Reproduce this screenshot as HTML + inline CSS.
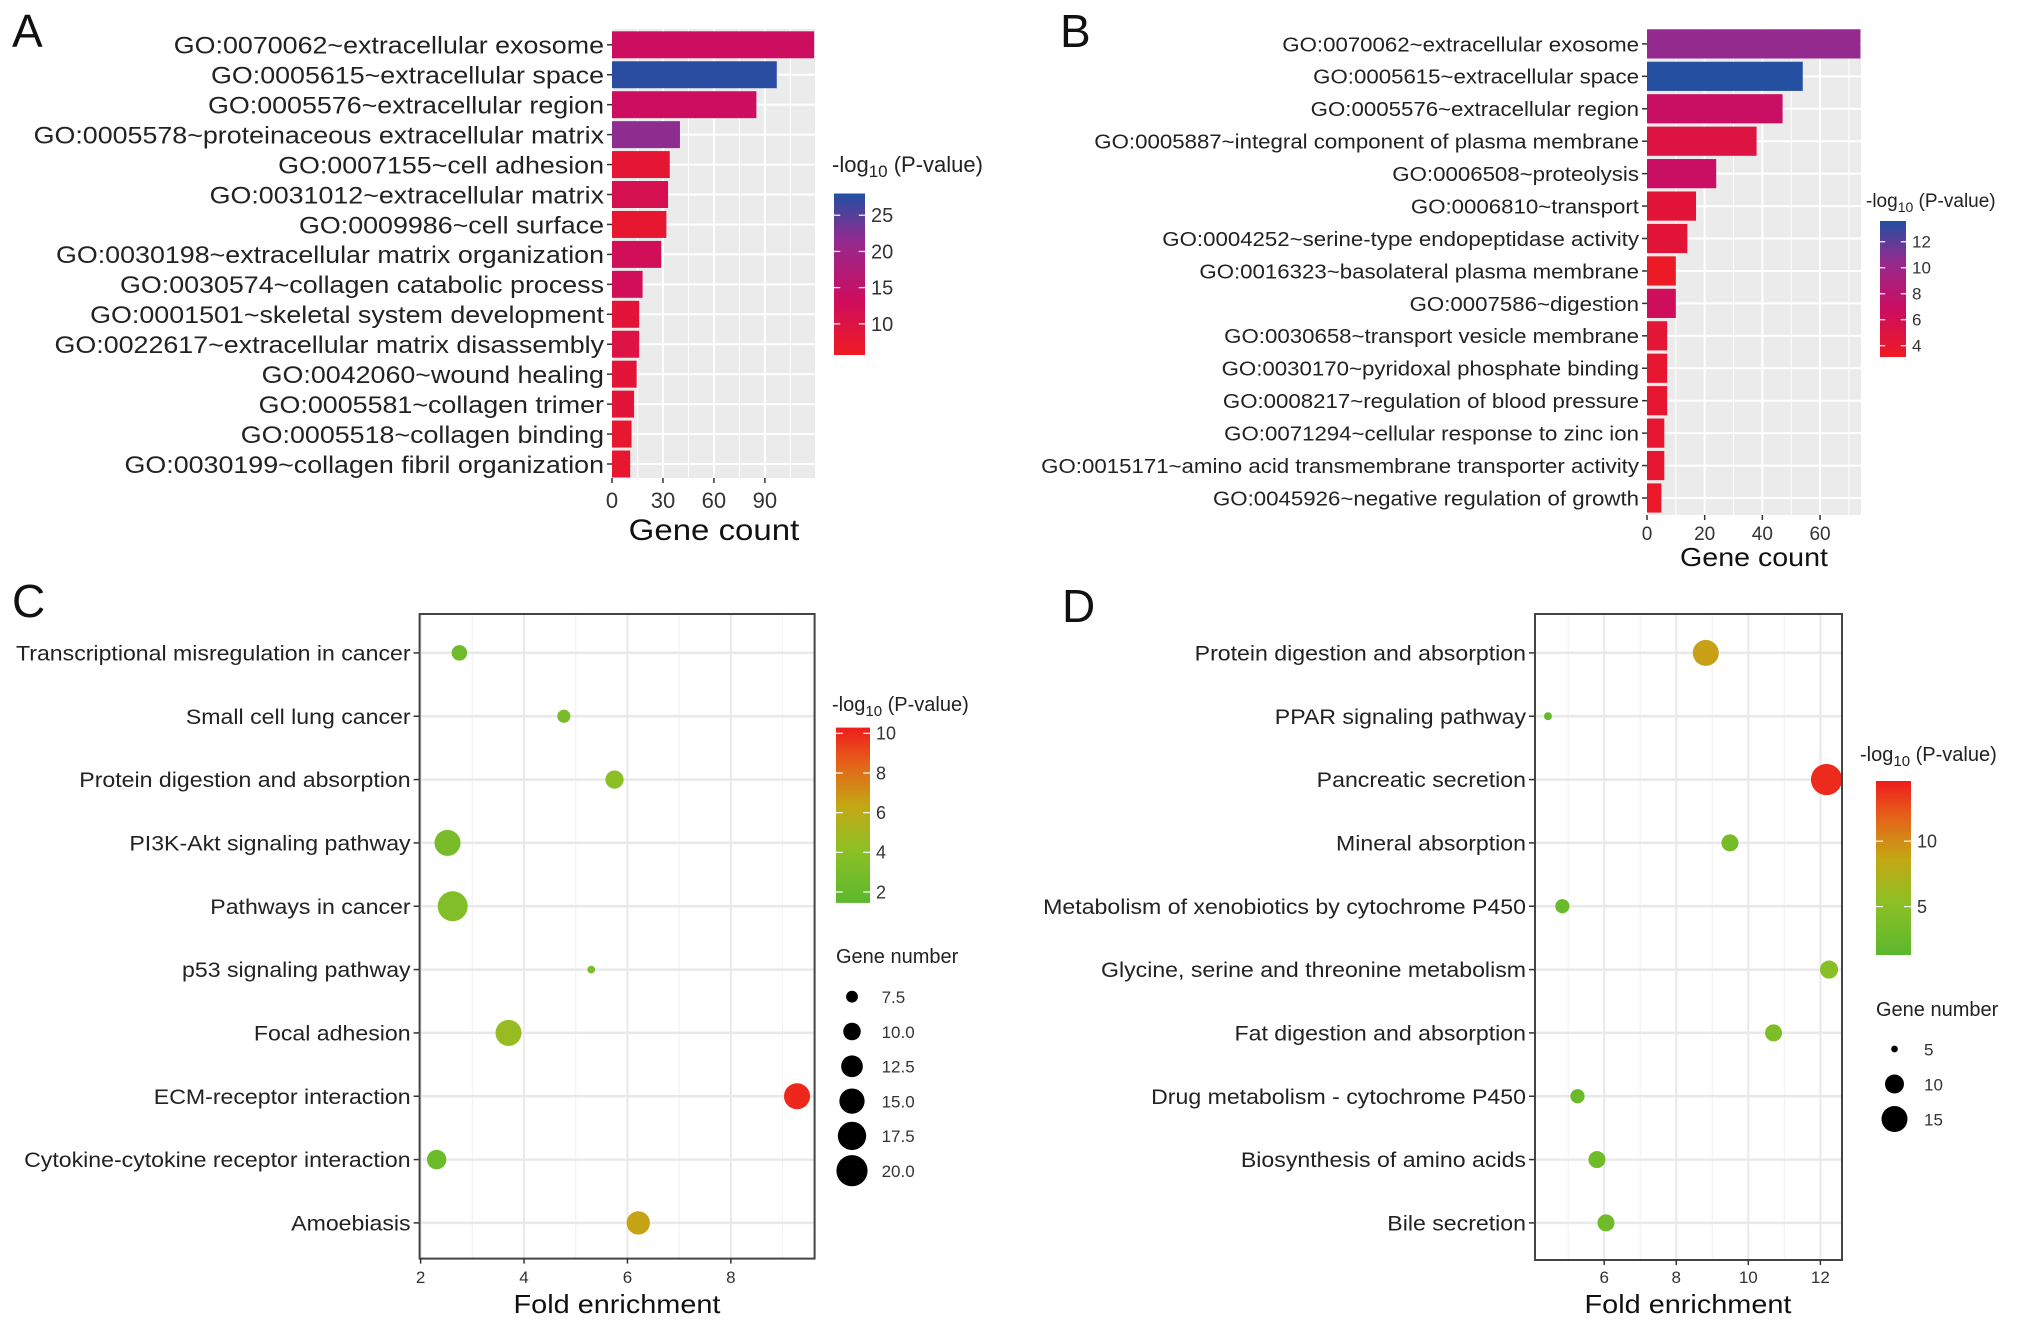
<!DOCTYPE html>
<html><head><meta charset="utf-8"><style>
html,body{margin:0;padding:0;background:#fff}
svg{display:block}
text{font-family:"Liberation Sans",Arial,sans-serif}
</style></head><body>
<svg id="fig" width="2031" height="1323" viewBox="0 0 2031 1323" xmlns="http://www.w3.org/2000/svg"></svg>
<script>
// ---------- Panel A data ----------
const aCats=["GO:0070062~extracellular exosome","GO:0005615~extracellular space","GO:0005576~extracellular region","GO:0005578~proteinaceous extracellular matrix","GO:0007155~cell adhesion","GO:0031012~extracellular matrix","GO:0009986~cell surface","GO:0030198~extracellular matrix organization","GO:0030574~collagen catabolic process","GO:0001501~skeletal system development","GO:0022617~extracellular matrix disassembly","GO:0042060~wound healing","GO:0005581~collagen trimer","GO:0005518~collagen binding","GO:0030199~collagen fibril organization"];
const aCounts=[119,97,85,40,34,33,32,29,18,16,16,14.5,13,11.5,10.7];
const aLogP=[13.5,27.5,13.5,21.8,8,11.5,7.5,12.5,12.5,8.5,10,8.5,8.5,7.5,7.5];
const aTicks=[0,30,60,90];
const aBarTicks=[10,15,20,25];
// ---------- Panel B data ----------
const bCats=["GO:0070062~extracellular exosome","GO:0005615~extracellular space","GO:0005576~extracellular region","GO:0005887~integral component of plasma membrane","GO:0006508~proteolysis","GO:0006810~transport","GO:0004252~serine-type endopeptidase activity","GO:0016323~basolateral plasma membrane","GO:0007586~digestion","GO:0030658~transport vesicle membrane","GO:0030170~pyridoxal phosphate binding","GO:0008217~regulation of blood pressure","GO:0071294~cellular response to zinc ion","GO:0015171~amino acid transmembrane transporter activity","GO:0045926~negative regulation of growth"];
const bCounts=[74,54,47,38,24,17,14,10,10,7,7,7,6,6,5];
const bLogP=[10.5,13.5,7,5,7,4.5,4.5,3.4,6.5,4.3,4,4,4,4,3.6];
const bTicks=[0,20,40,60];
const bBarTicks=[4,6,8,10,12];
// ---------- Panel C data ----------
const cCats=["Transcriptional misregulation in cancer","Small cell lung cancer","Protein digestion and absorption","PI3K-Akt signaling pathway","Pathways in cancer","p53 signaling pathway","Focal adhesion","ECM-receptor interaction","Cytokine-cytokine receptor interaction","Amoebiasis"];
const cFold=[2.75,4.77,5.75,2.52,2.62,5.3,3.7,9.28,2.31,6.21];
const cGenes=[9,8,10.4,15.6,18.9,6.3,15.6,15.6,11.1,13.6];
const cLogP=[2.5,3,4,3,3.5,3,4.5,10,2.3,6.5];
const cTicks=[2,4,6,8];
const cBarTicks=[2,4,6,8,10];
const cSizeTicks=[7.5,10.0,12.5,15.0,17.5,20.0];
// ---------- Panel D data ----------
const dCats=["Protein digestion and absorption","PPAR signaling pathway","Pancreatic secretion","Mineral absorption","Metabolism of xenobiotics by cytochrome P450","Glycine, serine and threonine metabolism","Fat digestion and absorption","Drug metabolism - cytochrome P450","Biosynthesis of amino acids","Bile secretion"];
const dFold=[8.82,4.44,12.17,9.49,4.84,12.24,10.7,5.26,5.8,6.05];
const dGenes=[15,5.3,19.7,8.9,7.5,9.5,8.9,7.5,8.9,8.9];
const dLogP=[9,2,14,3.5,2.5,5,4,2.5,3,3];
const dTicks=[6,8,10,12];
const dBarTicks=[5,10];
const dSizeTicks=[5,10,15];

const NS="http://www.w3.org/2000/svg";
const svg=document.getElementById('fig');
function mk(tag,attrs,parent){const e=document.createElementNS(NS,tag);for(const k in attrs)e.setAttribute(k,attrs[k]);(parent||svg).appendChild(e);return e;}
function txt(s,attrs,parent){const e=mk('text',attrs,parent);e.textContent=s;return e;}
function stretch(el,f){try{const w=el.getComputedTextLength();if(w>0){el.setAttribute('textLength',(w*f).toFixed(1));el.setAttribute('lengthAdjust','spacingAndGlyphs');}}catch(e){}}
function hex(h){return [parseInt(h.slice(1,3),16),parseInt(h.slice(3,5),16),parseInt(h.slice(5,7),16)];}
function interp(stops,t){t=Math.max(0,Math.min(1,t));for(let i=1;i<stops.length;i++){if(t<=stops[i][0]){const a=stops[i-1],b=stops[i];const u=(t-a[0])/(b[0]-a[0]);const ca=hex(a[1]),cb=hex(b[1]);return 'rgb('+ca.map((v,j)=>Math.round(v+(cb[j]-v)*u)).join(',')+')';}}return stops[stops.length-1][1];}
const RB=[[0,'#ef1a22'],[0.35,'#cc0d60'],[0.7,'#962a8e'],[1,'#2150a2']];
const GR=[[0,'#5cb82e'],[0.3,'#8cc025'],[0.55,'#c3a814'],[0.8,'#e6601a'],[1,'#ee1c1c']];
let gradId=0;
function colorbar(g,x,y,w,h,lo,hi,stops,ticks,title,tx,ty,fs){
  const id='grad'+(gradId++);
  const defs=mk('defs',{},g);
  const lg=mk('linearGradient',{id:id,x1:0,y1:1,x2:0,y2:0},defs);
  stops.forEach(s=>mk('stop',{offset:s[0],'stop-color':s[1]},lg));
  const r=mk('rect',{x:x,y:y,width:w,height:h,fill:'url(#'+id+')'},g);
  
  
  const t=txt('',{x:tx,y:ty,'font-size':fs+2,fill:'#222'},g);
  
  
  t.innerHTML='-log<tspan font-size="'+(fs-3)+'" dy="5">10</tspan><tspan dy="-5"> (P-value)</tspan>';
  ticks.forEach(v=>{const yy=y+h-(v-lo)/(hi-lo)*h;
    mk('line',{x1:x,x2:x+w*0.2,y1:yy,y2:yy,stroke:'#fff','stroke-width':1.2},g);
    mk('line',{x1:x+w*0.8,x2:x+w,y1:yy,y2:yy,stroke:'#fff','stroke-width':1.2},g);
    const l=txt(String(v),{x:x+w+6,y:yy+fs*0.35,'font-size':fs,fill:'#333'},g);
    
    
  });
}
function barPanel(o){
  const g=mk('g',{});  
  const xs=v=>o.x0+(v-0)/(o.xmax)*(o.x1-o.x0);
  const n=o.cats.length; const step=(o.yLast-o.yFirst)/(n-1);
  const bg=mk('rect',{x:o.x0,y:o.y0,width:o.x1-o.x0,height:o.y1-o.y0,fill:'#ebebeb'},g);
  
  
  const minor=o.ticks.slice(0,-1).map((t,i)=>(t+o.ticks[i+1])/2); minor.push(o.ticks[o.ticks.length-1]+(o.ticks[1]-o.ticks[0])/2);
  minor.forEach(v=>{if(v<o.xmax)mk('line',{x1:xs(v),x2:xs(v),y1:o.y0,y2:o.y1,stroke:'#fff','stroke-width':1},g);});
  o.ticks.forEach(v=>mk('line',{x1:xs(v),x2:xs(v),y1:o.y0,y2:o.y1,stroke:'#fff','stroke-width':2},g));
  o.cats.forEach((c,i)=>{const yc=o.yFirst+i*step;
    mk('line',{x1:o.x0,x2:o.x1,y1:yc,y2:yc,stroke:'#fff','stroke-width':2},g);
  });
  o.cats.forEach((c,i)=>{const yc=o.yFirst+i*step; const bh=step*0.9;
    const b=mk('rect',{x:xs(0),y:yc-bh/2,width:xs(o.counts[i])-xs(0),height:bh,fill:interp(RB,(o.logp[i]-o.clo)/(o.chi-o.clo))},g);
    
    
    mk('line',{x1:o.x0-5,x2:o.x0,y1:yc,y2:yc,stroke:'#333','stroke-width':1.5},g);
    const l=txt(c,{x:o.x0-8,y:yc+o.fs*0.36,'font-size':o.fs,'text-anchor':'end',fill:'#222'},g);
    
    
    stretch(l,o.sf);
  });
  o.ticks.forEach(v=>{mk('line',{x1:xs(v),x2:xs(v),y1:o.y1,y2:o.y1+5,stroke:'#333','stroke-width':1.5},g);
    const l=txt(String(v),{x:xs(v),y:o.tickY,'font-size':o.tfs,'text-anchor':'middle',fill:'#333'},g);
    
    });
  const xt=txt('Gene count',{x:o.xtX,y:o.xtY,'font-size':o.xtfs,'text-anchor':'middle',fill:'#111'},g);
  
  
  stretch(xt,1.1);
  colorbar(g,o.cb[0],o.cb[1],o.cb[2],o.cb[3],o.clo,o.chi,RB,o.cbTicks,'',o.cbt[0],o.cbt[1],o.cbfs);
}
function dotPanel(o){
  const g=mk('g',{});  
  const xs=v=>o.x0+(v-o.xmin)/(o.xmax-o.xmin)*(o.x1-o.x0);
  const n=o.cats.length; const step=(o.yLast-o.yFirst)/(n-1);
  const rr=v=>Math.sqrt(Math.max(4,o.sa*v+o.sb));
  mk('rect',{x:o.x0,y:o.y0,width:o.x1-o.x0,height:o.y1-o.y0,fill:'#fff'},g);
  const minor=[]; o.ticks.forEach((t,i)=>{minor.push(t-(o.ticks[1]-o.ticks[0])/2);}); minor.push(o.ticks[o.ticks.length-1]+(o.ticks[1]-o.ticks[0])/2);
  minor.forEach(v=>{if(v>o.xmin&&v<o.xmax)mk('line',{x1:xs(v),x2:xs(v),y1:o.y0,y2:o.y1,stroke:'#f3f3f3','stroke-width':1.2},g);});
  o.ticks.forEach(v=>mk('line',{x1:xs(v),x2:xs(v),y1:o.y0,y2:o.y1,stroke:'#e9e9e9','stroke-width':2},g));
  o.cats.forEach((c,i)=>{const yc=o.yFirst+i*step;
    mk('line',{x1:o.x0,x2:o.x1,y1:yc,y2:yc,stroke:'#e9e9e9','stroke-width':2.5},g);});
  o.cats.forEach((c,i)=>{const yc=o.yFirst+i*step;
    const d=mk('circle',{cx:xs(o.fold[i]),cy:yc,r:rr(o.genes[i]),fill:interp(GR,(o.logp[i]-o.clo)/(o.chi-o.clo))},g);
    
    
    mk('line',{x1:o.x0-6,x2:o.x0,y1:yc,y2:yc,stroke:'#333','stroke-width':1.5},g);
    const l=txt(c,{x:o.x0-9,y:yc+o.fs*0.36,'font-size':o.fs,'text-anchor':'end',fill:'#222'},g);
    
    
    stretch(l,o.sf);
  });
  const fr=mk('rect',{x:o.x0,y:o.y0,width:o.x1-o.x0,height:o.y1-o.y0,fill:'none',stroke:'#444','stroke-width':2},g);
  
  
  o.ticks.forEach(v=>{mk('line',{x1:xs(v),x2:xs(v),y1:o.y1,y2:o.y1+5,stroke:'#333','stroke-width':1.5},g);
    const l=txt(String(v),{x:xs(v),y:o.tickY,'font-size':o.tfs,'text-anchor':'middle',fill:'#333'},g);
    
    });
  const xt=txt('Fold enrichment',{x:o.xtX,y:o.xtY,'font-size':o.xtfs,'text-anchor':'middle',fill:'#111'},g);
  
  
  stretch(xt,1.11);
  colorbar(g,o.cb[0],o.cb[1],o.cb[2],o.cb[3],o.clo,o.chi,GR,o.cbTicks,'',o.cbt[0],o.cbt[1],o.cbfs);
  const st=txt('Gene number',{x:o.sl[0],y:o.sl[1],'font-size':o.cbfs+2,fill:'#222'},g);
  
  
  o.sizeTicks.forEach((v,i)=>{const yy=o.sl[2]+i*o.sl[3];
    const c=mk('circle',{cx:o.sl[4],cy:yy,r:rr(v),fill:'#000'},g);
    
    
    const l=txt(o.sizeFmt(v),{x:o.sl[5],y:yy+o.cbfs*0.35,'font-size':o.cbfs-1,fill:'#333'},g);
    
    });
}
function letter(s,x,y){const t=txt(s,{x:x,y:y,'font-size':46,fill:'#111'});}

barPanel({name:'panel-a',cats:aCats,counts:aCounts,logp:aLogP,ticks:aTicks,x0:612,x1:815,xmax:119.5,y0:29,y1:478,yFirst:44.8,yLast:464,fs:24.5,sf:1.095,tfs:22,tickY:508,xtX:714,xtY:540,xtfs:30,clo:5.7,chi:28,cb:[834,193.5,31,161.5],cbTicks:aBarTicks,cbt:[832,172],cbfs:20});
barPanel({name:'panel-b',cats:bCats,counts:bCounts,logp:bLogP,ticks:bTicks,x0:1647,x1:1861,xmax:74.2,y0:29,y1:515,yFirst:43.9,yLast:498,fs:20.5,sf:1.085,tfs:19,tickY:540,xtX:1754,xtY:566,xtfs:26,clo:3.13,chi:13.6,cb:[1880,221,26,136],cbTicks:bBarTicks,cbt:[1866,207],cbfs:17});
dotPanel({name:'panel-c',cats:cCats,fold:cFold,genes:cGenes,logp:cLogP,ticks:cTicks,x0:419.6,x1:814.6,xmin:1.98,xmax:9.62,y0:614,y1:1258.6,yFirst:652.9,yLast:1222.9,fs:21,sf:1.1,tfs:17,tickY:1283,xtX:617,xtY:1313,xtfs:26,sa:16.64,sb:-89.8,clo:1.45,chi:10.29,cb:[836,727.6,34,175.3],cbTicks:cBarTicks,cbt:[832,711],cbfs:18,sl:[836,963,996.7,34.8,852,881.6],sizeTicks:cSizeTicks,sizeFmt:v=>v.toFixed(1)});
dotPanel({name:'panel-d',cats:dCats,fold:dFold,genes:dGenes,logp:dLogP,ticks:dTicks,x0:1535,x1:1842,xmin:4.08,xmax:12.6,y0:614,y1:1260,yFirst:652.9,yLast:1222.9,fs:21,sf:1.1,tfs:17,tickY:1283,xtX:1688,xtY:1313,xtfs:26,sa:15.8,sb:-68,clo:1.3,chi:14.6,cb:[1876,781,35,174],cbTicks:dBarTicks,cbt:[1860,761],cbfs:18,sl:[1876,1016,1049,35,1894.5,1924],sizeTicks:dSizeTicks,sizeFmt:v=>String(v)});
letter('A',12,47); letter('B',1060,47); letter('C',12,617); letter('D',1062,622);
</script>
</body></html>
